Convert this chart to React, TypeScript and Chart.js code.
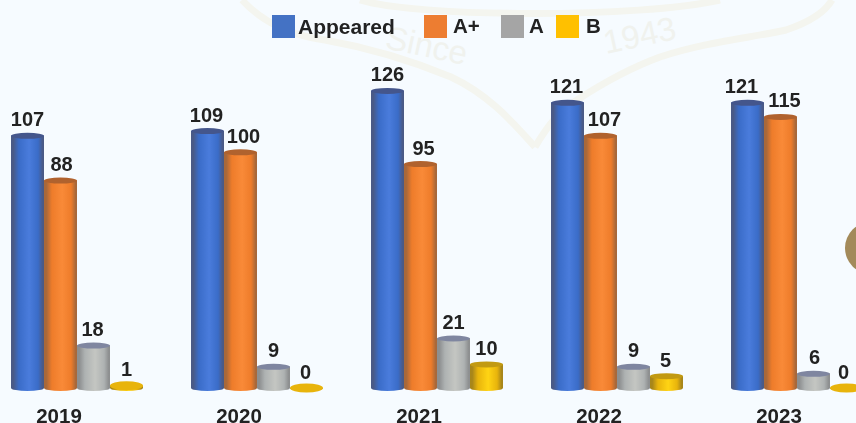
import React, { useEffect, useRef } from "react";
import { Chart, registerables } from "chart.js";

Chart.register(...registerables);

const categories = ["2019", "2020", "2021", "2022", "2023"];
const appeared = [107, 109, 126, 121, 121];
const aPlus = [88, 100, 95, 107, 115];
const aGrade = [18, 9, 21, 9, 6];
const bGrade = [1, 0, 10, 5, 0];

const seriesNames = ["Appeared", "A+", "A", "B"];
const legendColors = ["#4472C4", "#ED7D31", "#A5A5A5", "#FFC000"];
const edgeColors = ["#4a5a86", "#a8683a", "#8d8f90", "#a8861a"];
const bodyColors = ["#3a6cc8", "#ee7c2a", "#aeb2b2", "#e8b40c"];
const lightColors = ["#4a7cdc", "#f98a38", "#c4c6c2", "#ffd414"];
const capColors = ["#44568c", "#b0622e", "#7f86a0", "#c29a12"];

// horizontal nudges of the value labels, per series and year
const appearedShift = [0, -1, 0, -1, -6];
const aPlusShift = [1, 3, 3, 4, 4];
const aShift = [-1, 0, 0, 0, 1];
const bShift = [0, -1, 0, -1, -3];

const FONT = '"Liberation Sans", Arial, sans-serif';
// legend: box left edge and text left edge for each series
const legendBoxX = [285, 437, 514, 569];
const legendTextX = [311, 466, 542, 599];

function barGradient(ctx: any, bar: any, i: number) {
  const rx = bar.width / 2;
  const g = ctx.createLinearGradient(bar.x - rx, 0, bar.x + rx, 0);
  g.addColorStop(0, edgeColors[i]);
  g.addColorStop(0.07, edgeColors[i]);
  g.addColorStop(0.24, bodyColors[i]);
  g.addColorStop(0.55, lightColors[i]);
  g.addColorStop(0.82, bodyColors[i]);
  g.addColorStop(0.96, edgeColors[i]);
  g.addColorStop(1, edgeColors[i]);
  return g;
}

const cylinderPlugin = {
  id: "cylinders",
  afterDatasetsDraw(chart: any) {
    const { ctx } = chart;
    const base = chart.scales.y.getPixelForValue(0);
    const shifts = [appearedShift, aPlusShift, aShift, bShift];
    chart.data.datasets.forEach((ds: any, i: number) => {
      chart.getDatasetMeta(i).data.forEach((bar: any, j: number) => {
        const rx = bar.width / 2;
        const value = ds.data[j];
        ctx.save();
        ctx.fillStyle = barGradient(ctx, bar, i);
        ctx.fillRect(bar.x - rx, bar.y, bar.width, base - bar.y);
        ctx.beginPath();
        ctx.ellipse(bar.x, base, rx, 3, 0, 0, Math.PI);
        ctx.fill();
        ctx.fillStyle = value <= 1 ? bodyColors[i] : capColors[i];
        ctx.filter = "blur(0.7px)";
        ctx.beginPath();
        ctx.ellipse(bar.x, bar.y, rx, value <= 1 ? 4.5 : 3, 0, 0, Math.PI * 2);
        ctx.fill();
        ctx.filter = "none";
        ctx.fillStyle = "#222222";
        ctx.font = `bold 20px ${FONT}`;
        ctx.textAlign = "center";
        ctx.textBaseline = "alphabetic";
        ctx.fillText(String(value), bar.x + shifts[i][j], bar.y - 9.5);
        ctx.restore();
      });
    });
  },
};

const legendPlugin = {
  id: "flatLegend",
  afterDraw(chart: any) {
    const { ctx } = chart;
    ctx.save();
    seriesNames.forEach((name, i) => {
      ctx.fillStyle = legendColors[i];
      ctx.fillRect(legendBoxX[i], 15, 23, 23);
      ctx.fillStyle = "#222222";
      ctx.font = `bold ${i === 0 ? 21 : 20.5}px ${FONT}`;
      ctx.textAlign = "left";
      ctx.textBaseline = "alphabetic";
      ctx.fillText(name, legendTextX[i], i === 0 ? 34 : 33);
    });
    ctx.restore();
  },
};

export default function App() {
  const ref = useRef<HTMLCanvasElement | null>(null);
  useEffect(() => {
    const series = [appeared, aPlus, aGrade, bGrade];
    const chart = new Chart(ref.current as HTMLCanvasElement, {
      type: "bar",
      data: {
        labels: categories,
        datasets: series.map((data, i) => ({
          label: seriesNames[i],
          data,
          backgroundColor: bodyColors[i],
          borderWidth: 0,
          categoryPercentage: 0.7333,
          barPercentage: 1,
        })),
      },
      options: {
        responsive: false,
        animation: false,
        layout: { padding: 0 },
        plugins: { legend: { display: false }, tooltip: { enabled: false } },
        scales: {
          x: {
            grid: { display: false },
            border: { display: false },
            afterFit: (s: any) => {
              s.height = 35;
            },
            ticks: {
              autoSkip: false,
              maxRotation: 0,
              labelOffset: -18,
              padding: 9,
              color: "#222222",
              font: { family: FONT, size: 20.5, weight: "bold" },
            },
          },
          y: { display: false, min: 0, max: 164.6 },
        },
      },
      plugins: [cylinderPlugin, legendPlugin],
    } as any);
    return () => chart.destroy();
  }, []);

  return (
    <div
      style={{
        position: "fixed",
        left: 0,
        top: 0,
        width: 856,
        height: 423,
        overflow: "hidden",
        background: "#f6fbff",
      }}
    >
      <svg width={856} height={423} style={{ position: "absolute", left: 0, top: 0 }}>
        <g fill="none" stroke="#f4f5ef" strokeWidth={7}>
          <path d="M242 0 C265 25 295 36 325 40 C370 48 410 60 451 77 C490 95 515 125 535 147" />
          <path d="M535 147 C548 125 560 110 577 100 C600 85 630 68 660 57 C705 42 750 38 786 30 C810 22 825 12 832 0" />
          <path d="M360 0 C420 18 640 18 720 0" />
        </g>
        <text x={384} y={48} fill="#f0f2ee" fontSize={33} fontFamily={FONT} transform="rotate(12 384 48)">
          Since
        </text>
        <text x={606} y={54} fill="#f0f2ee" fontSize={33} fontFamily={FONT} transform="rotate(-12 606 54)">
          1943
        </text>
        <circle cx={871} cy={248} r={26} fill="#a38a5a" />
      </svg>
      <canvas
        ref={ref}
        width={900}
        height={423}
        style={{ position: "absolute", left: -13, top: 0 }}
      />
    </div>
  );
}
